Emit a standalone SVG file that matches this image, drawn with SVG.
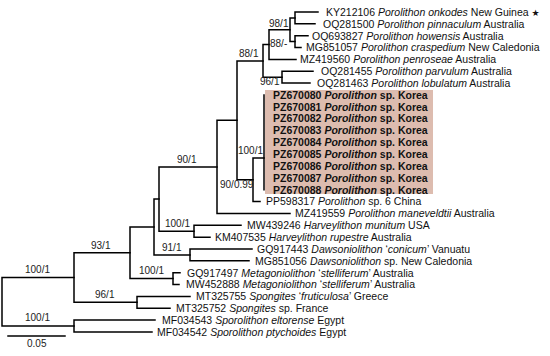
<svg xmlns="http://www.w3.org/2000/svg" width="550" height="356" viewBox="0 0 550 356">
<style>
.br{fill:none;stroke:#000;stroke-width:1.5;stroke-linecap:square}
.tip{font-family:"Liberation Sans",Arial,sans-serif;font-size:10.5px;fill:#111}
.kor{font-family:"Liberation Sans",Arial,sans-serif;font-size:10.5px;font-weight:bold;fill:#111}
.sup{font-family:"Liberation Sans",Arial,sans-serif;font-size:10px;fill:#222}
.i{font-style:italic}
</style>
<rect x="0" y="0" width="550" height="356" fill="#fff"/>
<rect id="korea-box" x="265" y="90" width="168" height="104" fill="#ddbcaf"/>
<g id="connectors" class="br">
<path d="M2,277.6V326M2,277.6H74M2,326H74"/>
<path d="M74,252.8V302.3M74,252.8H130M74,302.3H137"/>
<path d="M74,320.1V331.95M74,320.1H155M74,331.95H152"/>
<path d="M137,296.4V308.25M137,296.4H190M137,308.25H170"/>
<path d="M130,227V278.6M130,227H154M130,278.6H173"/>
<path d="M173,272.7V284.55M173,272.7H180M173,284.55H179"/>
<path d="M154,199V254.9M154,199H159M154,254.9H190"/>
<path d="M190,249V260.85M190,249H252M190,260.85H249"/>
<path d="M159,166.9V231.2M159,166.9H217M159,231.2H194"/>
<path d="M194,225.3V237.15M194,225.3H241M194,237.15H210"/>
<path d="M217,120.3V213.45M217,120.3H237M217,213.45H290"/>
<path d="M237,60.9V179.8M237,60.9H263M237,179.8H253"/>
<path d="M253,158V201.6M253,158H264M253,201.6H260"/>
<path d="M264,94.95V189.75"/>
<path d="M263,44.6V77.2M263,44.6H269M263,77.2H282"/>
<path d="M269,29.8V59.4M269,29.8H290M269,59.4H296"/>
<path d="M290,17.9V41.6M290,17.9H295M290,41.6H295"/>
<path d="M295,12V23.85M295,12H318M295,23.85H315"/>
<path d="M295,35.7V47.55M295,35.7H308M295,47.55H301"/>
<path d="M282,71.25V83.1M282,71.25H313M282,83.1H310"/>
<path d="M8,336H65"/>
</g>
<g id="tips">
<g id="t1"><text class="tip" x="326" y="15.8">KY212106 <tspan class="i">Porolithon onkodes</tspan> New Guinea <tspan font-family="DejaVu Sans,sans-serif" font-size="9">★</tspan></text></g>
<g id="t2"><text class="tip" x="323" y="27.65">OQ281500 <tspan class="i">Porolithon pinnaculum</tspan> Australia</text></g>
<g id="t3"><text class="tip" x="312" y="39.5">OQ693827 <tspan class="i">Porolithon howensis</tspan> Australia</text></g>
<g id="t4"><text class="tip" x="306" y="51.35">MG851057 <tspan class="i">Porolithon craspedium</tspan> New Caledonia</text></g>
<g id="t5"><text class="tip" x="300" y="63.2">MZ419560 <tspan class="i">Porolithon penroseae</tspan> Australia</text></g>
<g id="t6"><text class="tip" x="321" y="75.05">OQ281455 <tspan class="i">Porolithon parvulum</tspan> Australia</text></g>
<g id="t7"><text class="tip" x="317" y="86.9">OQ281463 <tspan class="i">Porolithon lobulatum</tspan> Australia</text></g>
<g id="t8"><text class="kor" x="273" y="98.75">PZ670080 <tspan class="i">Porolithon</tspan> sp. Korea</text></g>
<g id="t9"><text class="kor" x="273" y="110.6">PZ670081 <tspan class="i">Porolithon</tspan> sp. Korea</text></g>
<g id="t10"><text class="kor" x="273" y="122.45">PZ670082 <tspan class="i">Porolithon</tspan> sp. Korea</text></g>
<g id="t11"><text class="kor" x="273" y="134.3">PZ670083 <tspan class="i">Porolithon</tspan> sp. Korea</text></g>
<g id="t12"><text class="kor" x="273" y="146.15">PZ670084 <tspan class="i">Porolithon</tspan> sp. Korea</text></g>
<g id="t13"><text class="kor" x="273" y="158">PZ670085 <tspan class="i">Porolithon</tspan> sp. Korea</text></g>
<g id="t14"><text class="kor" x="273" y="169.85">PZ670086 <tspan class="i">Porolithon</tspan> sp. Korea</text></g>
<g id="t15"><text class="kor" x="273" y="181.7">PZ670087 <tspan class="i">Porolithon</tspan> sp. Korea</text></g>
<g id="t16"><text class="kor" x="273" y="193.55">PZ670088 <tspan class="i">Porolithon</tspan> sp. Korea</text></g>
<g id="t17"><text class="tip" x="266" y="205.4">PP598317 <tspan class="i">Porolithon</tspan> sp. 6 China</text></g>
<g id="t18"><text class="tip" x="295" y="217.25">MZ419559 <tspan class="i">Porolithon maneveldtii</tspan> Australia</text></g>
<g id="t19"><text class="tip" x="247" y="229.1">MW439246 <tspan class="i">Harveylithon munitum</tspan> USA</text></g>
<g id="t20"><text class="tip" x="215" y="240.95">KM407535 <tspan class="i">Harveylithon rupestre</tspan> Australia</text></g>
<g id="t21"><text class="tip" x="257" y="252.8">GQ917443 <tspan class="i">Dawsoniolithon</tspan> ‘<tspan class="i">conicum</tspan>’ Vanuatu</text></g>
<g id="t22"><text class="tip" x="255" y="264.65">MG851056 <tspan class="i">Dawsoniolithon</tspan> sp. New Caledonia</text></g>
<g id="t23"><text class="tip" x="187" y="276.5">GQ917497 <tspan class="i">Metagoniolithon</tspan> ‘<tspan class="i">stelliferum</tspan>’ Australia</text></g>
<g id="t24"><text class="tip" x="186" y="288.35">MW452888 <tspan class="i">Metagoniolithon</tspan> ‘<tspan class="i">stelliferum</tspan>’ Australia</text></g>
<g id="t25"><text class="tip" x="196" y="300.2">MT325755 <tspan class="i">Spongites</tspan> ‘<tspan class="i">fruticulosa</tspan>’ Greece</text></g>
<g id="t26"><text class="tip" x="176" y="312.05">MT325752 <tspan class="i">Spongites</tspan> sp. France</text></g>
<g id="t27"><text class="tip" x="162" y="323.9">MF034543 <tspan class="i">Sporolithon eltorense</tspan> Egypt</text></g>
<g id="t28"><text class="tip" x="157" y="335.75">MF034542 <tspan class="i">Sporolithon ptychoides</tspan> Egypt</text></g>
</g>
<g id="supports" class="sup">
<text x="269" y="27">98/1</text>
<text x="270" y="47">88/-</text>
<text x="239" y="57">88/1</text>
<text x="260" y="85">96/1</text>
<text x="238" y="154">100/1</text>
<text x="220" y="188">90/0.99</text>
<text x="177" y="163">90/1</text>
<text x="165" y="227">100/1</text>
<text x="162" y="251">91/1</text>
<text x="139" y="274">100/1</text>
<text x="91" y="249">93/1</text>
<text x="95" y="298">96/1</text>
<text x="25" y="273">100/1</text>
<text x="25" y="321">100/1</text>
<text x="27" y="347">0.05</text>
</g>
</svg>
